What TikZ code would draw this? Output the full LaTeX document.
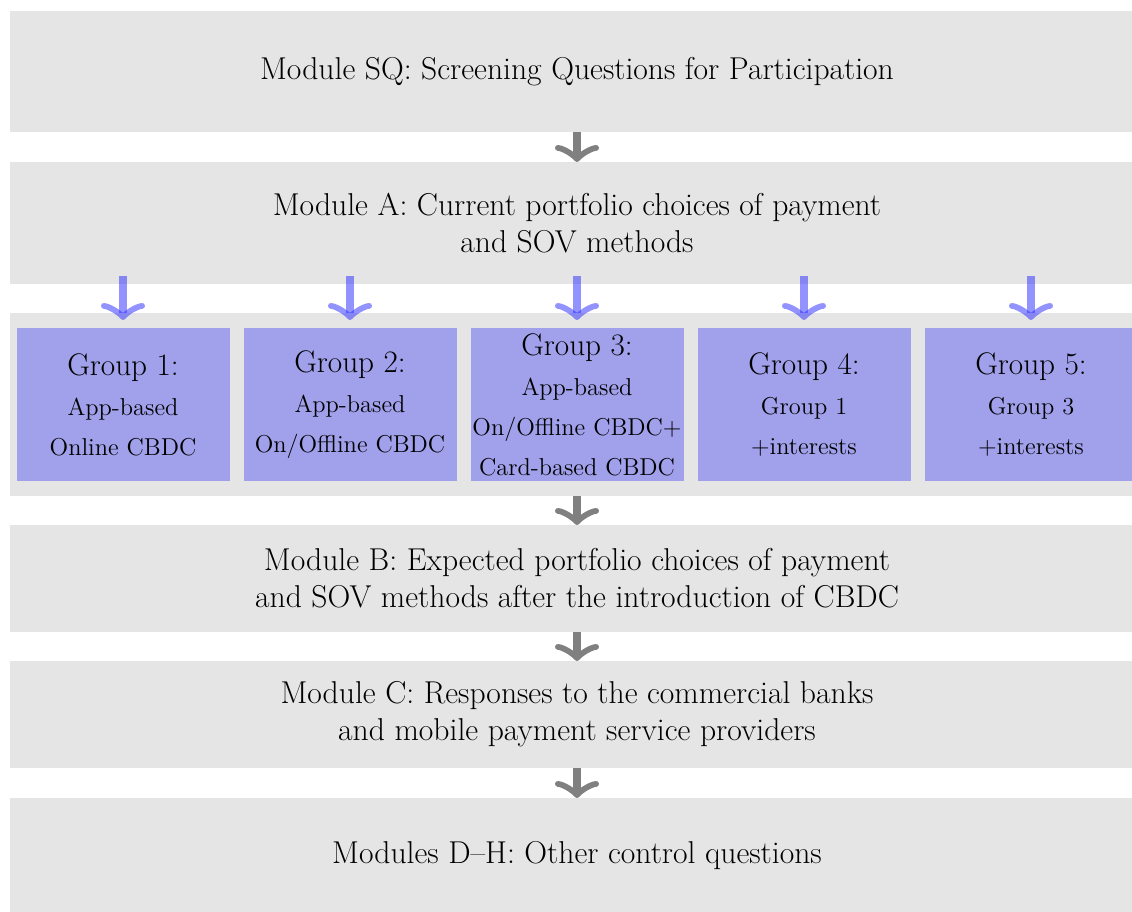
\documentclass[tikz,border=0pt]{standalone}
\usepackage{tikz}
\usetikzlibrary{arrows.meta, positioning}
\usepackage{xcolor}
\definecolor{grayBox}{RGB}{229,229,229}
\definecolor{blueBox}{RGB}{160,160,235}
\definecolor{grayArrow}{RGB}{128,128,128}
\definecolor{blueArrow}{RGB}{40,40,255}

\begin{document}
\begin{tikzpicture}[
    node distance=14.5pt and 7pt,
    modbox/.style={rectangle, fill=grayBox, minimum width=567pt, inner sep=0pt, outer sep=0pt, align=center, font=\fontsize{15.8}{18.5}\selectfont},
    grpbox/.style={rectangle, fill=blueBox, minimum width=106.5pt, minimum height=76.5pt, inner sep=0pt, outer sep=0pt, align=center, font=\fontsize{15.6}{20}\selectfont},
    grayflow/.style={draw=grayArrow, line width=3.6pt, -{Classical TikZ Rightarrow[round, length=8.5pt, width=22pt]}},
    blueflow/.style={draw=blueArrow, opacity=0.5, line width=3.6pt, -{Classical TikZ Rightarrow[round, length=8.5pt, width=22pt]}}
]
\useasboundingbox (0,0) rectangle (566pt,-456pt);

\node[modbox, minimum height=60.5pt] (m1) at (288.5pt,-35.75pt) {Module SQ: Screening Questions for Participation};
\node[modbox, minimum height=61pt, below=15pt of m1] (m2) {Module A: Current portfolio choices of payment\\and SOV methods};
\node[modbox, minimum height=91.5pt, below=of m2] (grp) {};

\node[grpbox] (g3) at (grp.center) {Group 3:\\{\fontsize{12.2}{19}\selectfont App-based}\\{\fontsize{12.2}{19}\selectfont On/Offline CBDC+}\\{\fontsize{12.2}{19}\selectfont Card-based CBDC}};
\node[grpbox, left=of g3] (g2) {Group 2:\\{\fontsize{12.2}{19}\selectfont App-based}\\{\fontsize{12.2}{19}\selectfont On/Offline CBDC}};
\node[grpbox, left=of g2] (g1) {Group 1:\\{\fontsize{12.2}{19}\selectfont App-based}\\{\fontsize{12.2}{19}\selectfont Online CBDC}};
\node[grpbox, right=of g3] (g4) {Group 4:\\{\fontsize{12.2}{19}\selectfont Group 1}\\{\fontsize{12.2}{19}\selectfont +interests}};
\node[grpbox, right=of g4] (g5) {Group 5:\\{\fontsize{12.2}{19}\selectfont Group 3}\\{\fontsize{12.2}{19}\selectfont +interests}};

\node[modbox, minimum height=53.5pt, below=of grp] (m3) {Module B: Expected portfolio choices of payment\\and SOV methods after the introduction of CBDC};
\node[modbox, minimum height=53.5pt, below=of m3] (m4) {Module C: Responses to the commercial banks\\and mobile payment service providers};
\node[modbox, minimum height=58pt, below=15pt of m4] (m5) {Modules D--H: Other control questions};

\draw[grayflow] (m1) -- (m2);
\foreach \g in {g1,g2,g3,g4,g5}
  \draw[blueflow] ([yshift=4pt]m2.south -| \g.north) -- ([yshift=4pt]\g.north);
\draw[grayflow] (grp) -- (m3);
\draw[grayflow] (m3) -- (m4);
\draw[grayflow] (m4) -- (m5);
\end{tikzpicture}
\end{document}
